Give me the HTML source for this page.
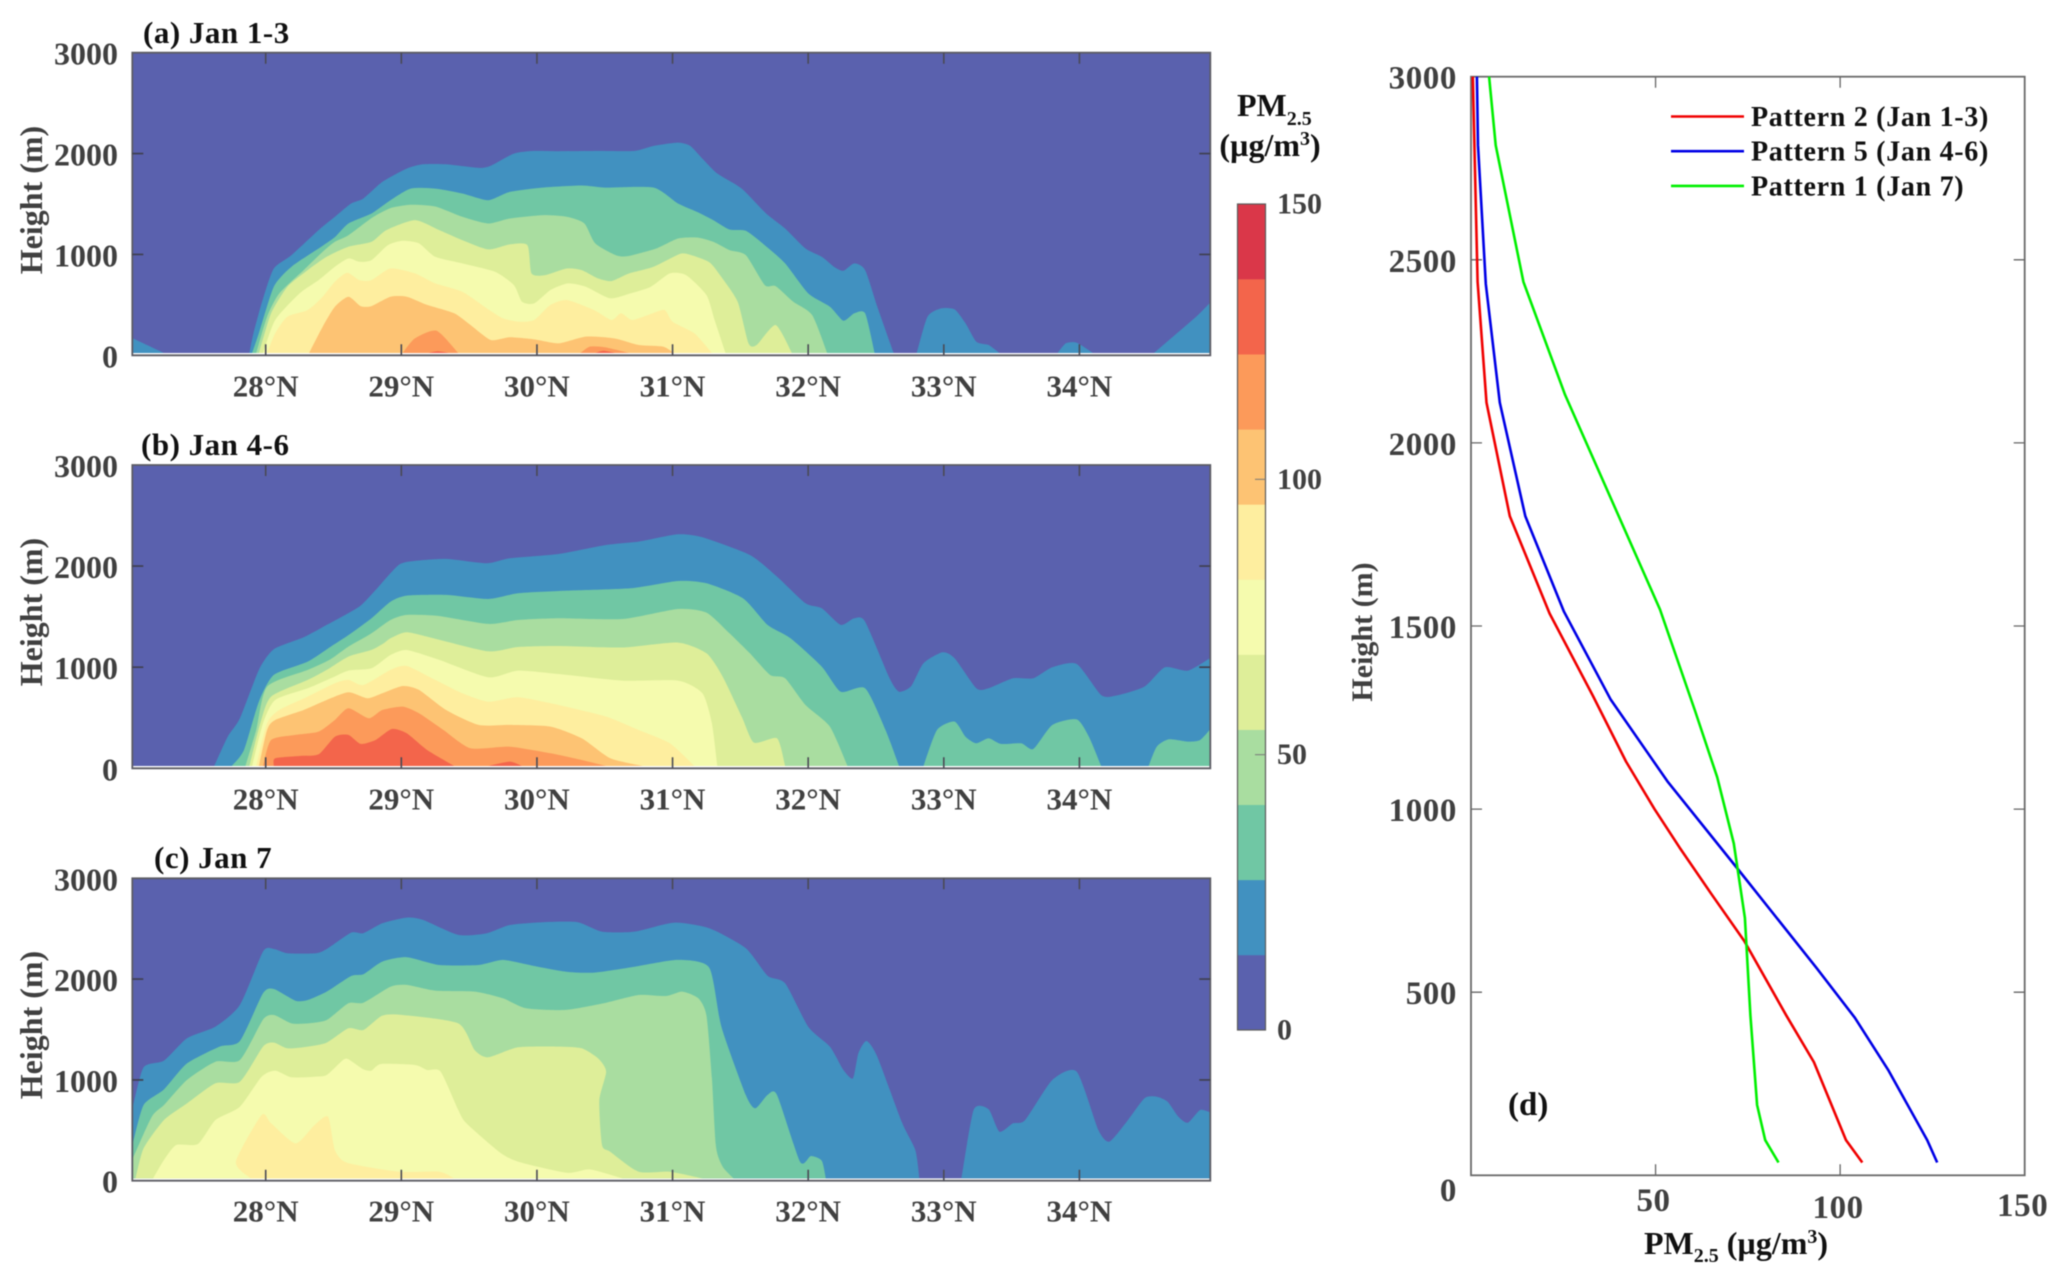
<!DOCTYPE html>
<html lang="en">
<head>
<meta charset="utf-8">
<title>PM2.5 vertical cross sections and profiles</title>
<style>
html,body{margin:0;padding:0;background:#fff;width:2067px;height:1282px;overflow:hidden}
svg{display:block;filter:blur(0.45px)}
text{font-family:"Liberation Serif",serif;font-weight:bold}
.tick{fill:#404040}
.ink{fill:#111}
</style>
</head>
<body>
<svg id="figure" xmlns="http://www.w3.org/2000/svg" width="2067" height="1282" viewBox="0 0 2067 1282">
  <rect x="0" y="0" width="2067" height="1282" fill="#fff"/>
  <g id="contours"></g>
  <g id="colorbar"></g>
  <g id="profile"></g>

  <text class="ink" x="143" y="43" font-size="31" letter-spacing="0.5">(a) Jan 1-3</text>
  <text class="ink" x="141" y="455" font-size="31" letter-spacing="0.5">(b) Jan 4-6</text>
  <text class="ink" x="154" y="868" font-size="31" letter-spacing="0.5">(c) Jan 7</text>

  <text class="tick" font-size="32" text-anchor="middle" transform="translate(42,200) rotate(-90)">Height (m)</text>
  <text class="tick" font-size="32" text-anchor="middle" transform="translate(42,612) rotate(-90)">Height (m)</text>
  <text class="tick" font-size="32" text-anchor="middle" transform="translate(42,1025) rotate(-90)">Height (m)</text>

  <text class="ink" x="1237" y="116" font-size="32">PM<tspan font-size="20" dy="9">2.5</tspan></text>
  <text class="ink" x="1270" y="156" font-size="32" text-anchor="middle">(µg/m<tspan font-size="20" dy="-11">3</tspan><tspan dy="11">)</tspan></text>

  <text class="tick" font-size="30" text-anchor="middle" transform="translate(1372,632) rotate(-90)">Height (m)</text>
  <text class="ink" x="1736" y="1254" font-size="32" text-anchor="middle">PM<tspan font-size="20" dy="8">2.5</tspan><tspan dy="-8"> (µg/m</tspan><tspan font-size="20" dy="-11">3</tspan><tspan dy="11">)</tspan></text>
  <text class="ink" x="1508" y="1115" font-size="33">(d)</text>
</svg>

<script>
/* ---------- shared categories and ticks ---------- */
const latTicks = [28, 29, 30, 31, 32, 33, 34];
const heightTicks = [0, 1000, 2000, 3000];
const colorbarTicks = [0, 50, 100, 150];
const profileHeightTicks = [0, 500, 1000, 1500, 2000, 2500, 3000];
const profilePmTicks = [50, 100, 150];
const levelColors = ['#5A61AE', '#4191C0', '#70C7A4', '#A9DDA0', '#DEEE99', '#F5FBAE', '#FEEE9F', '#FDC373', '#FC9A5A', '#F3654B', '#DA3749'];
const levelStep = 150 / 11;
const dataFloorHeight = 23;

/* ---------- panel (a) contour tops: [latitude, height m] ---------- */
const a1West = [[27.02,168],[27.25,23]];
const a1Main = [[27.88,23],[27.91,220],[27.98,560],[28.06,861],[28.19,993],[28.39,1241],[28.51,1373],[28.63,1505],[28.72,1554],[28.86,1719],[29.04,1851],[29.16,1894],[29.33,1894],[29.57,1858],[29.66,1880],[29.83,2000],[29.98,2026],[30.16,2023],[30.45,2026],[30.72,2026],[30.86,2076],[31.04,2109],[31.13,2076],[31.22,1950],[31.33,1802],[31.51,1653],[31.69,1406],[31.83,1257],[31.98,1059],[32.10,977],[32.19,878],[32.26,838],[32.34,911],[32.42,845],[32.51,482],[32.63,23]];
const a1Lobe33 = [[32.80,23],[32.88,383],[32.98,465],[33.08,455],[33.16,317],[33.24,135],[33.33,102],[33.41,23]];
const a1Lobe34 = [[33.84,23],[33.90,119],[33.98,125],[34.10,23]];
const a1East = [[34.55,23],[34.86,383],[34.97,531]];
const a2Main = [[27.9,23],[27.95,220],[28.06,680],[28.19,878],[28.39,1059],[28.51,1172],[28.61,1307],[28.78,1406],[28.92,1538],[29.07,1653],[29.25,1653],[29.45,1604],[29.64,1538],[29.8,1620],[30.04,1663],[30.33,1683],[30.5,1663],[30.86,1663],[31.04,1505],[31.18,1422],[31.3,1340],[31.42,1247],[31.54,1234],[31.68,1092],[31.83,911],[32.0,614],[32.16,482],[32.26,343],[32.34,416],[32.42,416],[32.49,23]];
const a3Main = [[27.93,23],[28.01,383],[28.1,614],[28.28,845],[28.42,1026],[28.51,1125],[28.61,1191],[28.78,1360],[28.92,1459],[29.07,1492],[29.25,1475],[29.45,1373],[29.64,1307],[29.8,1356],[30.04,1389],[30.22,1373],[30.35,1307],[30.43,1109],[30.58,993],[30.67,983],[30.88,1059],[31.04,1158],[31.18,1168],[31.3,1125],[31.42,1043],[31.54,993],[31.68,696],[31.76,686],[31.89,531],[32.03,399],[32.14,23]];
const a4Main = [[27.95,23],[28.04,416],[28.16,680],[28.31,845],[28.45,977],[28.61,1076],[28.78,1125],[28.89,1241],[29.1,1340],[29.28,1241],[29.45,1142],[29.64,1050],[29.8,1099],[29.93,1092],[29.96,812],[30.06,795],[30.22,861],[30.33,845],[30.45,762],[30.55,736],[30.68,812],[30.86,878],[31.05,1003],[31.12,1000],[31.27,924],[31.36,776],[31.48,530],[31.56,119],[31.62,102],[31.76,300],[31.88,23]];
const a5Main = [[27.98,23],[28.07,350],[28.25,614],[28.39,746],[28.51,878],[28.61,960],[28.69,927],[28.78,944],[28.9,1092],[29.01,1135],[29.13,1109],[29.25,977],[29.45,911],[29.69,828],[29.83,696],[29.89,531],[29.98,515],[30.1,647],[30.23,713],[30.36,680],[30.54,565],[30.69,614],[30.84,680],[30.98,812],[31.1,795],[31.25,597],[31.31,350],[31.39,23]];
const a6Main = [[28.01,23],[28.07,218],[28.16,383],[28.31,449],[28.42,581],[28.51,729],[28.6,818],[28.69,746],[28.78,746],[28.92,861],[29.1,812],[29.25,713],[29.45,630],[29.63,465],[29.75,366],[29.87,333],[29.98,350],[30.1,500],[30.22,548],[30.42,449],[30.55,350],[30.62,416],[30.7,350],[30.82,400],[30.94,450],[31.0,333],[31.16,218],[31.29,23]];
const a7Main = [[28.32,23],[28.42,284],[28.51,482],[28.61,581],[28.7,488],[28.78,488],[28.92,581],[29.04,581],[29.19,500],[29.39,416],[29.51,300],[29.66,152],[29.8,178],[29.98,158],[30.16,119],[30.36,185],[30.57,168],[30.75,102],[30.93,86],[31.01,23]];
const a8West = [[29.01,23],[29.1,168],[29.26,244],[29.42,23]];
const a8East = [[30.32,23],[30.39,86],[30.5,80],[30.68,23]];
const a9West = [[29.2,23],[29.27,40],[29.35,23]];
const a9East = [[30.43,23],[30.49,46],[30.58,23]];

/* ---------- panel (b) contour tops: [latitude, height m] ---------- */
const b1Main = [[27.62,23],[27.72,313],[27.81,495],[27.95,973],[28.06,1177],[28.28,1296],[28.45,1418],[28.69,1599],[28.81,1764],[28.98,2011],[29.1,2051],[29.33,2071],[29.63,2028],[29.8,2077],[30.16,2120],[30.51,2209],[30.75,2242],[31.04,2315],[31.22,2285],[31.57,2110],[31.77,1896],[31.98,1632],[32.1,1583],[32.24,1418],[32.34,1484],[32.42,1451],[32.6,890],[32.67,758],[32.76,814],[32.85,1039],[32.99,1147],[33.08,1088],[33.24,791],[33.33,791],[33.51,890],[33.66,890],[33.8,999],[33.98,1032],[34.16,725],[34.27,719],[34.48,808],[34.63,999],[34.8,966],[34.97,1095]];
const b2Main = [[27.75,23],[27.84,181],[27.95,660],[28.06,924],[28.31,1055],[28.48,1204],[28.63,1335],[28.78,1484],[28.92,1648],[29.04,1708],[29.33,1715],[29.64,1675],[29.86,1731],[30.16,1754],[30.69,1780],[31.04,1853],[31.25,1830],[31.52,1681],[31.7,1418],[31.87,1286],[32.1,1006],[32.24,758],[32.42,791],[32.57,379],[32.67,23]];
const b2Lobe33 = [[32.85,23],[32.95,379],[33.08,462],[33.16,313],[33.24,247],[33.33,297],[33.42,241],[33.57,247],[33.66,191],[33.8,428],[33.98,484],[34.07,313],[34.16,23]];
const b2East = [[34.51,23],[34.57,214],[34.66,287],[34.8,264],[34.89,280],[34.97,396]];
const b3Main = [[27.85,23],[27.93,379],[28.01,808],[28.31,973],[28.47,1072],[28.61,1204],[28.78,1335],[28.92,1467],[29.04,1517],[29.27,1507],[29.64,1428],[29.86,1467],[30.16,1484],[30.63,1477],[31.04,1576],[31.25,1540],[31.42,1335],[31.57,1137],[31.72,923],[31.83,890],[31.98,626],[32.16,412],[32.29,23]];
const b4Main = [[27.88,23],[27.96,445],[28.04,709],[28.31,874],[28.45,973],[28.61,1105],[28.78,1171],[28.87,1236],[28.92,1286],[29.04,1345],[29.25,1282],[29.64,1157],[29.86,1200],[30.16,1210],[30.63,1195],[31.04,1243],[31.25,1137],[31.37,906],[31.51,511],[31.6,254],[31.77,297],[31.83,23]];
const b5Main = [[27.9,23],[27.98,445],[28.07,676],[28.31,791],[28.48,890],[28.61,966],[28.78,989],[28.92,1121],[29.04,1170],[29.28,1072],[29.64,900],[29.86,966],[30.16,933],[30.63,867],[31.04,867],[31.22,742],[31.29,445],[31.33,23]];
const b6Main = [[27.93,23],[28.01,445],[28.1,577],[28.31,709],[28.51,841],[28.61,874],[28.72,824],[28.92,973],[29.04,1012],[29.25,874],[29.45,742],[29.64,659],[29.86,702],[30.16,626],[30.51,511],[30.75,379],[30.98,247],[31.16,23]];
const b7Main = [[27.95,23],[28.01,379],[28.07,478],[28.28,577],[28.45,676],[28.61,752],[28.75,692],[28.86,742],[29.01,814],[29.13,775],[29.33,577],[29.57,429],[29.8,429],[30.1,412],[30.33,297],[30.54,99],[30.78,23]];
const b8Main = [[27.98,23],[28.04,280],[28.22,330],[28.39,363],[28.51,478],[28.61,593],[28.76,495],[28.86,577],[29.01,610],[29.13,544],[29.31,379],[29.51,198],[29.8,214],[30.1,148],[30.33,82],[30.51,23]];
const b9West = [[28.06,23],[28.07,99],[28.25,122],[28.39,138],[28.51,313],[28.61,330],[28.7,241],[28.81,280],[28.93,389],[29.04,346],[29.19,181],[29.39,23]];
const b9East = [[29.64,23],[29.8,66],[29.89,23]];

/* ---------- panel (c) contour tops: [latitude, height m] ---------- */
const c1Main = [[27.02,734],[27.1,1125],[27.25,1191],[27.42,1413],[27.63,1529],[27.81,1744],[27.98,2273],[28.06,2299],[28.16,2256],[28.37,2256],[28.45,2299],[28.63,2461],[28.72,2455],[28.86,2554],[29.04,2610],[29.16,2587],[29.42,2438],[29.63,2455],[29.8,2537],[30.04,2564],[30.3,2564],[30.48,2471],[30.72,2471],[31.01,2560],[31.27,2504],[31.54,2306],[31.7,2034],[31.83,1958],[32.0,1528],[32.16,1330],[32.26,1098],[32.33,1015],[32.37,1264],[32.43,1386],[32.51,1230],[32.69,582],[32.79,304],[32.82,23]];
const c1East = [[33.13,23],[33.22,701],[33.33,708],[33.41,486],[33.51,569],[33.6,602],[33.8,999],[33.98,1082],[34.14,503],[34.22,387],[34.34,569],[34.48,817],[34.57,833],[34.65,784],[34.73,635],[34.8,575],[34.89,701],[34.97,675]];
const c2Main = [[27.02,370],[27.1,751],[27.25,906],[27.42,1164],[27.66,1330],[27.81,1386],[27.98,1859],[28.06,1902],[28.22,1786],[28.31,1793],[28.45,1876],[28.63,2031],[28.72,2048],[28.86,2174],[29.04,2217],[29.28,2140],[29.57,2140],[29.75,2190],[29.98,2130],[30.21,2074],[30.42,2064],[30.72,2123],[31.04,2190],[31.27,2114],[31.36,1528],[31.54,850],[31.61,718],[31.7,850],[31.77,850],[31.94,189],[32.02,245],[32.1,199],[32.13,23]];
const c3Main = [[27.02,222],[27.16,635],[27.25,751],[27.42,1000],[27.63,1181],[27.81,1197],[27.98,1598],[28.06,1644],[28.19,1561],[28.31,1561],[28.45,1594],[28.61,1760],[28.72,1766],[28.92,1925],[29.04,1942],[29.25,1886],[29.54,1876],[29.75,1810],[29.92,1710],[30.21,1694],[30.51,1766],[30.75,1842],[30.95,1832],[31.07,1876],[31.19,1810],[31.25,1637],[31.29,1022],[31.32,337],[31.37,139],[31.45,23]];
const c4Main = [[27.04,23],[27.1,321],[27.25,602],[27.42,767],[27.63,966],[27.81,982],[27.98,1330],[28.06,1370],[28.16,1313],[28.31,1330],[28.45,1370],[28.61,1512],[28.72,1495],[28.86,1638],[29.01,1644],[29.42,1561],[29.54,1297],[29.64,1224],[29.86,1323],[30.16,1330],[30.33,1313],[30.45,1214],[30.51,1082],[30.46,797],[30.48,354],[30.54,288],[30.75,89],[30.98,89],[31.22,23]];
const c5Main = [[27.17,23],[27.25,205],[27.34,354],[27.5,364],[27.63,602],[27.81,734],[27.97,1032],[28.07,1092],[28.19,1026],[28.36,1032],[28.45,1049],[28.57,1197],[28.61,1204],[28.72,1105],[28.78,1092],[28.85,1158],[29.1,1148],[29.19,1098],[29.29,1082],[29.42,701],[29.48,569],[29.72,288],[29.86,189],[30.22,79],[30.39,112],[30.63,23]];
const c6Main = [[27.89,23],[27.78,189],[27.97,652],[28.04,569],[28.22,370],[28.36,552],[28.46,635],[28.51,304],[28.6,179],[28.98,89],[29.28,89],[29.39,23]];

/* ---------- panel (d) profiles ---------- */
const redHeights = [3000, 2440, 2110, 1800, 1534, 1310, 1130, 1000, 895, 770, 640, 437, 309, 96, 35];
const redValues = [0.5, 1.8, 4.2, 10.5, 21.3, 33, 42, 49.7, 56.5, 65, 74, 85.4, 92.9, 101.6, 106];
const blueHeights = [3000, 2813, 2434, 2110, 1800, 1539, 1300, 1076, 831, 565, 430, 288, 96, 35];
const blueValues = [1.6, 1.9, 4, 7.8, 14.7, 25.2, 37.8, 53.2, 72.7, 93.7, 104, 113, 123.6, 126.3];
const greenHeights = [3000, 2813, 2440, 2131, 1545, 1268, 1087, 906, 703, 437, 192, 96, 35];
const greenValues = [4.9, 6.7, 14.2, 25.5, 51.2, 60.7, 66.7, 71.2, 74.2, 75.7, 77.5, 79.7, 83.3];
const legendLabels = ['Pattern 2 (Jan 1-3)', 'Pattern 5 (Jan 4-6)', 'Pattern 1 (Jan 7)'];
const lineColors = ['#f00000', '#0000e6', '#00f000'];

/* ---------- band order: [level, contour] ---------- */
const panelABands = [[1,a1West],[1,a1Main],[1,a1Lobe33],[1,a1Lobe34],[1,a1East],[2,a2Main],[3,a3Main],[4,a4Main],[5,a5Main],[6,a6Main],[7,a7Main],[8,a8West],[8,a8East],[9,a9West],[9,a9East]];
const panelBBands = [[1,b1Main],[2,b2Main],[2,b2Lobe33],[2,b2East],[3,b3Main],[4,b4Main],[5,b5Main],[6,b6Main],[7,b7Main],[8,b8Main],[9,b9West],[9,b9East]];
const panelCBands = [[1,c1Main],[1,c1East],[2,c2Main],[3,c3Main],[4,c4Main],[5,c5Main],[6,c6Main]];

/* ---------- layout and axis functions ---------- */
const NS = 'http://www.w3.org/2000/svg';
const plotLeft = 132.3, plotRight = 1210.3;
const panelBoxes = [
  {key:'a', top:52.7, bottom:355.3, bands:panelABands},
  {key:'b', top:465, bottom:768.3, bands:panelBBands},
  {key:'c', top:878.3, bottom:1180.7, bands:panelCBands}
];
const latX = lat => 265.7 + (lat - 28) * 135.62;
const heightY = (box, h) => box.bottom - (box.bottom - box.top) * h / 3000;
const cbY = v => 1030 - (1030 - 204) * v / 150;
const pmX = v => 1471 + (2024.7 - 1471) * v / 150;
const profileY = h => 1175.3 - (1175.3 - 76.7) * h / 3000;

function make(tag, parent, attrs, text) {
  const el = document.createElementNS(NS, tag);
  for (const k in attrs) el.setAttribute(k, attrs[k]);
  if (text !== undefined) el.textContent = text;
  parent.appendChild(el);
  return el;
}

/* soft-cornered path through contour vertices */
function softPath(xy) {
  let d = '';
  for (let i = 0; i < xy.length - 1; i++) {
    const p0 = xy[Math.max(i - 1, 0)], p1 = xy[i], p2 = xy[i + 1], p3 = xy[Math.min(i + 2, xy.length - 1)];
    const k = 0.11;
    const c1x = p1[0] + (p2[0] - p0[0]) * k, c1y = p1[1] + (p2[1] - p0[1]) * k;
    const c2x = p2[0] - (p3[0] - p1[0]) * k, c2y = p2[1] - (p3[1] - p1[1]) * k;
    d += 'C' + c1x.toFixed(1) + ' ' + c1y.toFixed(1) + ' ' + c2x.toFixed(1) + ' ' + c2y.toFixed(1) + ' ' + p2[0].toFixed(1) + ' ' + p2[1].toFixed(1);
  }
  return d;
}

const contoursGroup = document.getElementById('contours');
const defs = make('defs', contoursGroup, {});

panelBoxes.forEach(box => {
  const panel = make('g', contoursGroup, {});
  
  

  const floorY = heightY(box, dataFloorHeight);
  const clip = make('clipPath', defs, {id: 'clip-' + box.key});
  make('rect', clip, {x: plotLeft, y: box.top, width: plotRight - plotLeft, height: floorY - box.top});

  const bg = make('rect', panel, {x: plotLeft, y: box.top, width: plotRight - plotLeft, height: floorY - box.top, fill: levelColors[0]});
  
  

  const fills = make('g', panel, {'clip-path': 'url(#clip-' + box.key + ')'});
  
  
  box.bands.forEach(band => {
    const level = band[0], pts = band[1];
    const xy = pts.map(p => [latX(p[0]), heightY(box, Math.max(p[1], dataFloorHeight))]);
    const d = 'M' + xy[0][0].toFixed(1) + ' ' + (floorY + 3).toFixed(1) + 'L' + xy[0][0].toFixed(1) + ' ' + xy[0][1].toFixed(1) +
      softPath(xy) + 'L' + xy[xy.length - 1][0].toFixed(1) + ' ' + (floorY + 3).toFixed(1) + 'Z';
    const path = make('path', fills, {d: d, fill: levelColors[level]});
    
    
  });

  const frame = make('path', panel, {
    d: 'M' + plotLeft + ' ' + box.bottom + 'V' + box.top + 'H' + plotRight + 'V' + box.bottom + 'H' + plotLeft + 'Z',
    fill: 'none', stroke: '#5c5c64', 'stroke-width': 1.8
  });
  
  

  latTicks.forEach(lat => {
    const x = latX(lat);
    const tick = make('path', panel, {d: 'M' + x + ' ' + box.top + 'v11M' + x + ' ' + box.bottom + 'v-11', stroke: '#4a4a55', 'stroke-width': 1.6, fill: 'none'});
    
    
    const label = make('text', panel, {x: x, y: box.bottom + 41, 'font-size': 31, 'text-anchor': 'middle', class: 'tick'}, lat + '°N');
    
    
  });

  heightTicks.forEach(h => {
    const y = heightY(box, h);
    if (h > 0 && h < 3000) {
      const tick = make('path', panel, {d: 'M' + plotLeft + ' ' + y + 'h11M' + plotRight + ' ' + y + 'h-11', stroke: '#3f3f4e', 'stroke-width': 1.6, fill: 'none'});
      
      
    }
    const label = make('text', panel, {x: 118, y: y + 12, 'font-size': 32, 'text-anchor': 'end', class: 'tick'}, String(h));
    
    
  });
});

/* ---------- colorbar ---------- */
const cb = document.getElementById('colorbar');
levelColors.forEach((color, i) => {
  const yTop = cbY((i + 1) * levelStep), yBottom = cbY(i * levelStep);
  const rect = make('rect', cb, {x: 1237.5, y: yTop, width: 28, height: yBottom - yTop + 0.3, fill: color});
  
  
});
const cbFrame = make('rect', cb, {x: 1237.5, y: 204, width: 28, height: 826, fill: 'none', stroke: '#5c5c5c', 'stroke-width': 1.2});


colorbarTicks.forEach(v => {
  const label = make('text', cb, {x: 1277, y: cbY(v) + 9.5, 'font-size': 30, class: 'tick'}, String(v));
  
  
  if (v > 0 && v < 150) {
    const tick = make('line', cb, {x1: 1255, x2: 1265.5, y1: cbY(v), y2: cbY(v), stroke: '#777', 'stroke-width': 1});
    
    
  }
});

/* ---------- profile panel ---------- */
const prof = document.getElementById('profile');
const profFrame = make('rect', prof, {x: 1471, y: 76.7, width: 553.7, height: 1098.6, fill: 'none', stroke: '#6a6a6a', 'stroke-width': 1.8});



profileHeightTicks.forEach(h => {
  const y = profileY(h);
  if (h > 0 && h < 3000) {
    const tick = make('path', prof, {d: 'M1471 ' + y + 'h11M2024.7 ' + y + 'h-11', stroke: '#666', 'stroke-width': 1.3, fill: 'none'});
    
    
  }
  const label = make('text', prof, {x: 1457, y: h === 0 ? 1201 : y + 12, 'font-size': 33, 'letter-spacing': 0.6, 'text-anchor': 'end', class: 'tick'}, String(h));
  
  
});
profilePmTicks.forEach(v => {
  const x = pmX(v);
  if (v < 150) {
    const tick = make('path', prof, {d: 'M' + x + ' 76.7v11M' + x + ' 1175.3v-11', stroke: '#666', 'stroke-width': 1.3, fill: 'none'});
    
    
  }
  const labelY = v === 50 ? 1211 : (v === 100 ? 1218 : 1216);
  const label = make('text', prof, {x: x - 2, y: labelY, 'font-size': 33, 'letter-spacing': 0.6, 'text-anchor': 'middle', class: 'tick'}, String(v));
  
  
});

[[redValues, redHeights, 'red'], [blueValues, blueHeights, 'blue'], [greenValues, greenHeights, 'green']].forEach((s, i) => {
  const points = s[0].map((v, j) => pmX(v).toFixed(1) + ',' + profileY(s[1][j]).toFixed(1)).join(' ');
  const line = make('polyline', prof, {points: points, fill: 'none', stroke: lineColors[i], 'stroke-width': 2.6, 'stroke-linejoin': 'round'});
  
  

  const key = make('line', prof, {x1: 1671, x2: 1744, y1: 116.5 + i * 34.7, y2: 116.5 + i * 34.7, stroke: lineColors[i], 'stroke-width': 2.6});
  
  
  const text = make('text', prof, {x: 1751, y: 126 + i * 34.7, 'font-size': 28, 'letter-spacing': 0.7, class: 'ink'}, legendLabels[i]);
  
  
});
</script>
</body>
</html>
